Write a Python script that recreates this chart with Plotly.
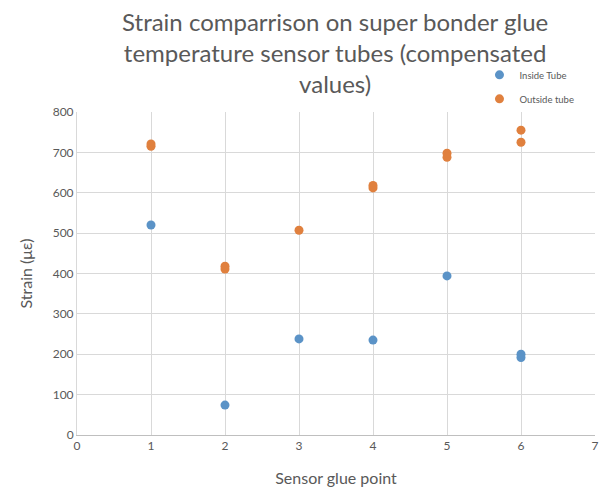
import plotly.graph_objects as go

inside_x = [1, 2, 3, 4, 5, 6, 6]
inside_y = [520, 74, 238, 235, 394, 200, 192]
outside_x = [1, 1, 2, 2, 3, 4, 4, 5, 5, 6, 6]
outside_y = [715, 721, 411, 418, 507, 612, 618, 688, 698, 755, 725]

title_text = "Strain comparrison on super bonder glue<br>temperature sensor tubes (compensated<br>values)"

fig = go.Figure()
fig.add_trace(go.Scatter(x=inside_x, y=inside_y, mode="markers", name="Inside Tube",
                         legendgroup="a",
                         marker=dict(color="#5b93c7", size=9)))
fig.add_trace(go.Scatter(x=outside_x, y=outside_y, mode="markers", name="Outside tube",
                         legendgroup="b",
                         marker=dict(color="#e0803e", size=9)))

grey = "#595959"
fig.update_layout(
    width=606, height=492,
    margin=dict(l=77, r=7, t=112, b=57),
    paper_bgcolor="white", plot_bgcolor="white",
    font=dict(family="Lato, Open Sans, sans-serif", color=grey),
    title=dict(text=title_text, x=0.553, xanchor="center", y=0.938, yanchor="middle",
               font=dict(size=24, color=grey)),
    legend=dict(x=0.777, xanchor="left", y=1.16, yanchor="top",
                font=dict(size=9.5, color=grey), itemwidth=30,
                traceorder="grouped", tracegroupgap=5,
                bgcolor="rgba(0,0,0,0)"),
    xaxis=dict(range=[0, 7], dtick=1, showgrid=True, gridcolor="#d9d9d9",
               zeroline=False, showline=True, linecolor="#bfbfbf",
               ticks="", tickfont=dict(size=12, color=grey),
               title=dict(text="Sensor glue point", font=dict(size=16, color=grey), standoff=20)),
    yaxis=dict(range=[0, 800], dtick=100, showgrid=True, gridcolor="#d9d9d9",
               zeroline=False, showline=True, linecolor="#d9d9d9",
               ticks="", tickfont=dict(size=12, color=grey),
               title=dict(text="Strain (με)", font=dict(size=16, color=grey), standoff=16)),
)

fig.write_html("out.html")
